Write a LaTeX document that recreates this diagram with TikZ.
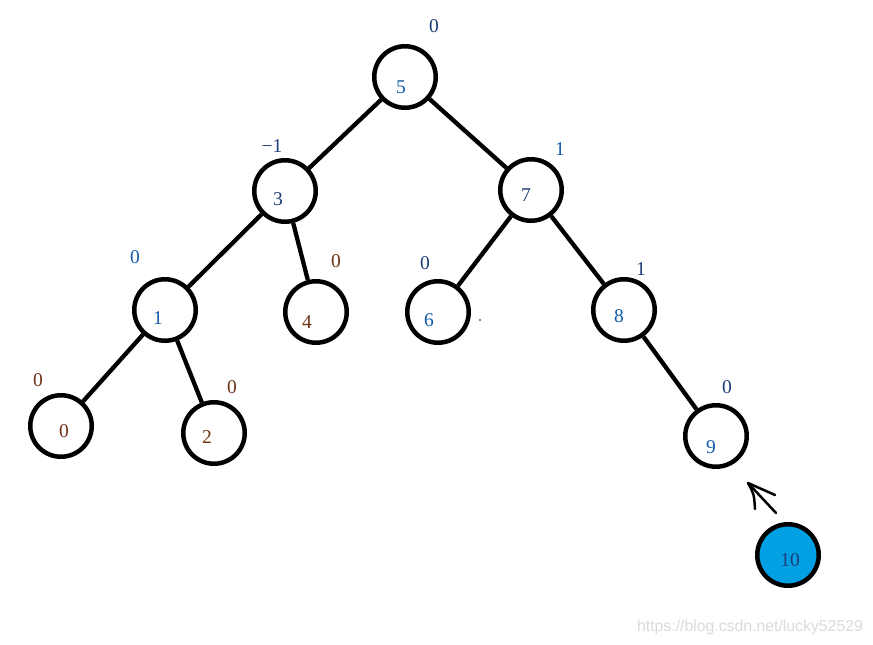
\documentclass[tikz,border=0pt]{standalone}
\usepackage{fontspec}
\setmainfont{Liberation Serif}
\newfontfamily\wmfont{Liberation Sans}
\definecolor{navy}{RGB}{30,60,120}
\definecolor{bluetxt}{RGB}{20,90,170}
\definecolor{browntxt}{RGB}{110,50,20}
\definecolor{fillblue}{RGB}{0,160,226}
\begin{document}
\begin{tikzpicture}[x=1pt,y=-1pt,
  treenode/.style={circle,draw=black,line width=4.5pt,minimum size=61.5pt,inner sep=0pt},
  edge/.style={draw=black,line width=4.3pt},
  num/.style={inner sep=0pt,text height=13pt,text depth=0pt,font=\fontsize{19.5}{22}\selectfont},
  bal/.style={num},
  hand/.style={draw=black,line width=2.5pt,line cap=round,line join=round}]
\useasboundingbox[fill=white] (0,0) rectangle (873,645);
% tree nodes
\node[treenode] (n5) at (405,77) {};
\node[treenode] (n3) at (285,191) {};
\node[treenode] (n7) at (531,190) {};
\node[treenode] (n1) at (165,310) {};
\node[treenode] (n4) at (316,312) {};
\node[treenode] (n6) at (438,312) {};
\node[treenode] (n8) at (624,310) {};
\node[treenode] (n0) at (61,426) {};
\node[treenode] (n2) at (214,433) {};
\node[treenode] (n9) at (716,436) {};
\node[treenode,fill=fillblue] (n10) at (788,555) {};
% edges
\draw[edge] (n5) -- (n3);
\draw[edge] (n5) -- (n7);
\draw[edge] (n3) -- (n1);
\draw[edge] (n3) -- (n4);
\draw[edge] (n7) -- (n6);
\draw[edge] (n7) -- (n8);
\draw[edge] (n1) -- (n0);
\draw[edge] (n1) -- (n2);
\draw[edge] (n8) -- (n9);
% node numbers
\node[num,text=bluetxt] (t5) at (401,87) {5};
\node[num,text=navy] (t3) at (278,199) {3};
\node[num,text=navy] (t7) at (526,195) {7};
\node[num,text=bluetxt] (t1) at (158,318) {1};
\node[num,text=browntxt] (t4) at (307,322) {4};
\node[num,text=bluetxt] (t6) at (429,320) {6};
\node[num,text=bluetxt] (t8) at (619,316) {8};
\node[num,text=browntxt] (t0) at (64,431) {0};
\node[num,text=browntxt] (t2) at (207,437) {2};
\node[num,text=bluetxt] (t9) at (711,447) {9};
\node[num,text=navy] (t10) at (790,560) {10};
% balance factors
\node[bal,text=navy] (b5) at (434,26) {0};
\node[bal,text=navy] (b3) at (272,146) {−1};
\node[bal,text=bluetxt] (b7) at (560,149) {1};
\node[bal,text=bluetxt] (b1) at (135,257) {0};
\node[bal,text=browntxt] (b4) at (336,261) {0};
\node[bal,text=navy] (b6) at (425,263) {0};
\node[bal,text=navy] (b8) at (641,269) {1};
\node[bal,text=browntxt] (b0) at (38,380) {0};
\node[bal,text=browntxt] (b2) at (232,387) {0};
\node[bal,text=navy] (b9) at (727,387) {0};
% hand-drawn arrow
\coordinate (tip) at (748,483);
\draw[hand] (tip) -- (775,495);
\draw[hand] (tip) -- (776,513);
\draw[hand] (tip) .. controls (754,494) .. (755,509);
% stray dot
\fill[black] (480,320) circle (0.9pt);
% watermark
\node[inner sep=0pt,text=black!14,font=\wmfont\fontsize{15.8}{18}\selectfont] (wm) at (750,627) {https://blog.csdn.net/lucky52529};
\end{tikzpicture}
\end{document}
